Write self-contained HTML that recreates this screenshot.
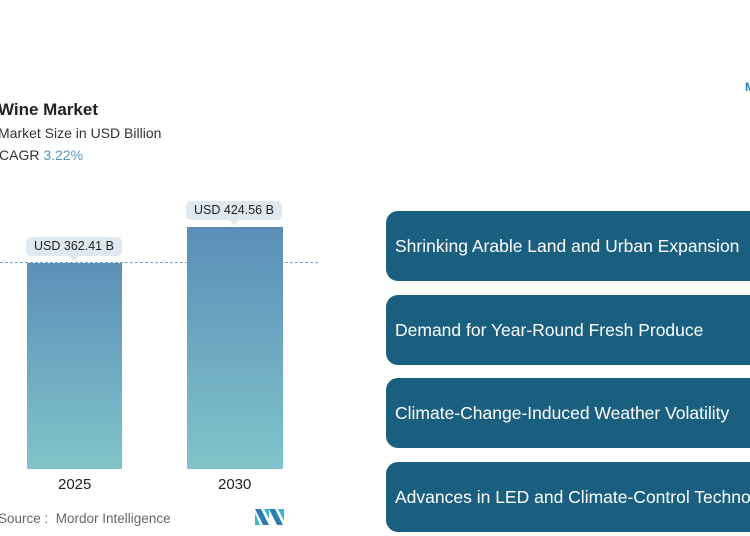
<!DOCTYPE html>
<html><head><style>
body{margin:0;width:750px;height:536px;background:#fff;position:relative;overflow:hidden;font-family:"Liberation Sans",sans-serif;}
.a{position:absolute;white-space:nowrap;}
.box{position:absolute;left:386px;width:380px;height:70px;background:#1a5f80;border-radius:12px;color:#fff;font-size:17.5px;line-height:70px;padding-left:9px;box-sizing:border-box;white-space:nowrap;overflow:hidden;}
.bar{position:absolute;background:linear-gradient(#5c8fb9,#80c4c9);}
.lbl{position:absolute;background:#dfe8ee;border-radius:5px;font-size:12.5px;color:#222;text-align:center;line-height:19px;height:19px;}
.lbl:after{content:"";position:absolute;left:50%;bottom:-5px;margin-left:-5px;border:5px solid transparent;border-bottom:0;border-top-color:#dfe8ee;}
</style></head><body>
<div class="a" style="left:-2px;top:100px;font-size:17px;font-weight:bold;color:#222">Wine Market</div>
<div class="a" style="left:-2px;top:125px;font-size:14px;color:#333">Market Size in USD Billion</div>
<div class="a" style="left:-1px;top:147px;font-size:14px;color:#333">CAGR <span style="color:#5a95bd">3.22%</span></div>
<div class="a" style="left:0;top:262px;width:318px;border-top:1.5px dashed #7aa9c2"></div>
<div class="bar" style="left:27px;top:263px;width:95px;height:206px"></div>
<div class="bar" style="left:187px;top:227px;width:96px;height:242px;background:linear-gradient(#5a8eb9,#80c4c9)"></div>
<div class="lbl" style="left:26px;top:237px;width:96px">USD 362.41 B</div>
<div class="lbl" style="left:186px;top:201px;width:96px">USD 424.56 B</div>
<div class="a" style="left:58px;top:476px;font-size:15px;color:#222">2025</div>
<div class="a" style="left:218px;top:476px;font-size:15px;color:#222">2030</div>
<div class="a" style="left:-2px;top:511px;font-size:13.5px;color:#666">Source :&nbsp; Mordor Intelligence</div>
<svg class="a" style="left:255px;top:509px" width="29" height="16"><polygon points="0,0 6,0 14,16 8,16" fill="#2a7fb0"/><polygon points="0,4 5,16 0,16" fill="#3ab8c6"/><polygon points="14,0 20,0 28,16 22,16" fill="#2a7fb0"/><polygon points="23,0 29,0 29,12" fill="#3ab8c6"/><polygon points="9,0 14,0 14,10" fill="#3ab8c6"/></svg>
<div class="a" style="left:745px;top:80px;font-size:12px;color:#2a7fb0;font-weight:bold">M</div>
<div class="box" style="top:211px">Shrinking Arable Land and Urban Expansion</div>
<div class="box" style="top:295px">Demand for Year-Round Fresh Produce</div>
<div class="box" style="top:378px">Climate-Change-Induced Weather Volatility</div>
<div class="box" style="top:462px">Advances in LED and Climate-Control Technology</div>
</body></html>
